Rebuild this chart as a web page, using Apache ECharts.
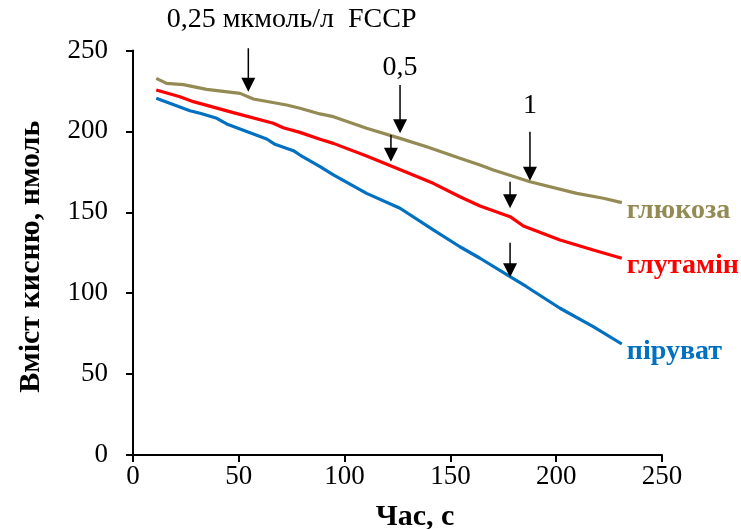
<!DOCTYPE html>
<html>
<head>
<meta charset="utf-8">
<script src="https://cdn.jsdelivr.net/npm/echarts@6/dist/echarts.min.js"></script>
<style>html,body{margin:0;padding:0;background:#fff}#c{width:741px;height:529px}</style>
</head>
<body>
<div id="c"></div>
<script>
// ---- data ----
const xTicks = [0, 50, 100, 150, 200, 250];
const yTicks = [0, 50, 100, 150, 200, 250];
const seriesNames = ['глюкоза', 'глутамін', 'піруват'];
const glucose = [[11,232.8],[15.9,229.7],[23.8,228.9],[34.8,226],[50.6,223.5],[56.9,220],[72.6,216.3],[78.9,214.3],[88.4,210.8],[94.7,209.1],[110.4,201.9],[126.2,195.7],[138.8,190.5],[154.5,183.4],[164,179.2],[170.3,176.1],[187.6,168.9],[209.7,161.7],[222.3,158.7],[231,156]];
const glutamine = [[11,225.6],[22.2,221.4],[28.5,218.4],[47.4,211.6],[66.3,205],[71,202.3],[78.9,199.4],[88.4,195.1],[94.7,192.6],[110.4,184.8],[124.6,177.2],[141.9,167.9],[154.5,159.6],[164,153.9],[178.2,147.3],[184.5,141.5],[201.8,132.9],[217.5,126.7],[231,121.6]];
const pyruvate = [[11,220.5],[26.9,212.8],[31.7,211.2],[39.6,208.1],[44.3,204.6],[63.2,195.3],[67.1,192],[75.8,188.1],[78.9,185.4],[88.4,178.2],[94.7,173.1],[110.4,161.7],[126.2,152.5],[141.9,139.1],[154.5,128.7],[164,121.6],[178.2,110.2],[186,104],[201.8,90.7],[217.5,79.3],[231,68.6]];
// FCCP addition arrows: x (time), y of arrow top, y of arrow tip
const arrowX   = [54.5, 126.2, 121.9, 187.6, 178.2, 178.2];
const arrowTop = [251.4, 228.7, 197.8, 199.8, 168.9, 131.2];
const arrowTip = [224.5, 198.8, 181.3, 169.5, 152.5, 109.8];
// annotation texts and their anchor (data coords)
const noteText = ['0,25 мкмоль/л  FCCP', '0,5', '1'];
const noteX = [75, 126.2, 187.6];
const noteY = [268.9, 239.2, 215.7];

// ---- chart ----
const colors = ['#948A54', '#FF0000', '#0070C0'];
const serif = 'Liberation Serif';
const chart = echarts.init(document.getElementById('c'), null, {renderer: 'canvas'});

const arrowData = arrowX.map((x, i) => [x, arrowTop[i], arrowTip[i]]);
const noteData = noteText.map((t, i) => [noteX[i], noteY[i], t]);

function mkLine(name, data, color) {
  return {
    name: name, type: 'line', data: data, showSymbol: false, smooth: false,
    lineStyle: {color: color, width: 3.2}, itemStyle: {color: color},
    endLabel: {show: true, formatter: name, color: color, fontFamily: serif,
      fontWeight: 'bold', fontSize: 28, offset: [0, 8], distance: 5},
    z: 3, silent: true
  };
}

chart.setOption({
  animation: false,
  grid: {left: 133, right: 79, top: 50.5, bottom: 74, containLabel: false, outerBoundsMode: 'none'},
  xAxis: {
    type: 'value', min: 0, max: 250, interval: 50,
    name: 'Час, с', nameLocation: 'middle', nameGap: 47,
    nameTextStyle: {fontFamily: serif, fontWeight: 'bold', fontSize: 30, color: '#000', padding: [0, 0, 0, 35]},
    axisLine: {lineStyle: {color: '#000', width: 2}},
    axisTick: {show: true, length: 7, inside: false, lineStyle: {color: '#000', width: 2}},
    axisLabel: {fontFamily: serif, fontSize: 27, color: '#000', margin: 8,
      formatter: v => xTicks.includes(v) ? String(v) : ''},
    splitLine: {show: false}
  },
  yAxis: {
    type: 'value', min: 0, max: 250, interval: 50,
    name: 'Вміст кисню, нмоль', nameLocation: 'middle', nameGap: 87, nameRotate: 90,
    nameTextStyle: {fontFamily: serif, fontWeight: 'bold', fontSize: 30, color: '#000', padding: [0, 8, 0, 0]},
    axisLine: {show: true, lineStyle: {color: '#000', width: 2}},
    axisTick: {show: true, length: 7, inside: false, lineStyle: {color: '#000', width: 2}},
    axisLabel: {fontFamily: serif, fontSize: 27, color: '#000', margin: 25,
      formatter: v => yTicks.includes(v) ? String(v) : ''},
    splitLine: {show: false}
  },
  series: [
    mkLine(seriesNames[0], glucose, colors[0]),
    mkLine(seriesNames[1], glutamine, colors[1]),
    mkLine(seriesNames[2], pyruvate, colors[2]),
    {
      type: 'custom', data: arrowData, clip: false, z: 5, silent: true,
      renderItem: function (params, api) {
        const top = api.coord([api.value(0), api.value(1)]);
        const tip = api.coord([api.value(0), api.value(2)]);
        const hw = 7, hh = 14;
        return {
          type: 'group',
          children: [
            {type: 'line', shape: {x1: top[0], y1: top[1], x2: tip[0], y2: tip[1] - hh + 1},
              style: {stroke: '#000', lineWidth: 1.5}},
            {type: 'polygon', shape: {points: [[tip[0] - hw, tip[1] - hh], [tip[0] + hw, tip[1] - hh], [tip[0], tip[1]]]},
              style: {fill: '#000'}}
          ]
        };
      }
    },
    {
      type: 'custom', data: noteData, clip: false, z: 5, silent: true,
      renderItem: function (params, api) {
        const p = api.coord([api.value(0), api.value(1)]);
        return {
          type: 'text',
          style: {x: p[0], y: p[1], text: noteData[params.dataIndex][2], fill: '#000',
            font: '28px "Liberation Serif"', align: 'center', verticalAlign: 'middle'}
        };
      }
    }
  ]
});
</script>
</body>
</html>
